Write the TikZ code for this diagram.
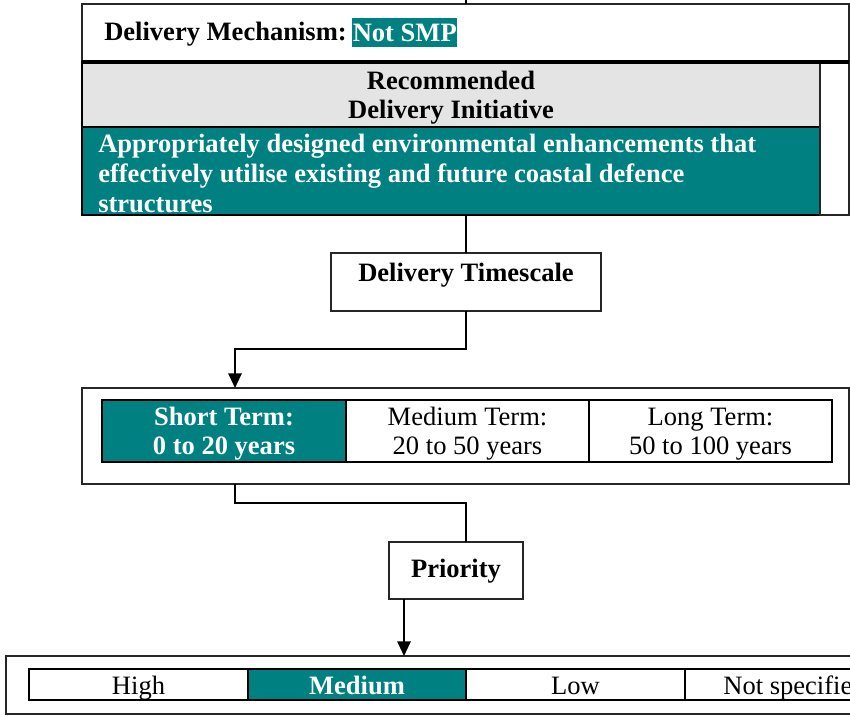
\documentclass[tikz,border=0pt]{standalone}
\usepackage{fontspec}
\setmainfont{Liberation Serif}
\usetikzlibrary{arrows.meta}
\definecolor{tealc}{HTML}{008080}
\definecolor{greyc}{HTML}{E4E4E4}
\newcommand\fsz{\fontsize{19.9pt}{24pt}\selectfont}
\begin{document}
\begin{tikzpicture}[x=0.75pt,y=-0.75pt,
  frame/.style={draw=black!85, line width=1.3pt, anchor=north west, inner sep=0pt, outer sep=0pt},
  cell/.style={draw=black, line width=1.5pt, anchor=north west, inner sep=0pt, outer sep=0pt},
  txt/.style={font=\fsz, inner sep=0pt, anchor=base},
  btxt/.style={font=\fsz\bfseries, inner sep=0pt, anchor=base},
  conn/.style={line width=1.5pt},
  arr/.style={conn, -{Triangle[width=10pt,length=11pt]}},
]
\useasboundingbox (0,0) rectangle (850,715);
\clip (0,0) rectangle (850,715);
\fill[white] (0,0) rectangle (850,715);

% ---- top box
\node[frame, minimum width=767*0.75pt, minimum height=211*0.75pt] (topouter) at (82,4) {};
\coordinate (topin) at (466,0);
\draw[conn] (topin) -- (topin |- topouter.north);
\node[btxt, anchor=base west] (mech) at (104,40) {Delivery Mechanism:};
\node[fill=tealc, text=white, font=\fsz\bfseries, minimum width=105*0.75pt, minimum height=29*0.75pt, anchor=north west, inner sep=0pt] (smp) at (352,18) {Not SMP};
\node[cell, fill=greyc, minimum width=738*0.75pt, minimum height=65*0.75pt] (rec) at (82,62) {};
\node[cell, fill=tealc, minimum width=738*0.75pt, minimum height=88*0.75pt] (init) at (82,127) {};
\node[frame, minimum width=29*0.75pt, minimum height=153*0.75pt] (rcol) at (820,62) {};
\draw[line width=2.6pt] (rec.north west) -- (rcol.north east);
\node[btxt] (rec1) at (451,89) {Recommended};
\node[btxt] (rec2) at (451,118) {Delivery Initiative};
\node[btxt, anchor=base west, text=white] (i1) at (98,152) {Appropriately designed environmental enhancements that};
\node[btxt, anchor=base west, text=white] (i2) at (98,182) {effectively utilise existing and future coastal defence};
\node[btxt, anchor=base west, text=white] (i3) at (98,212) {structures};

% ---- timescale
\node[frame, minimum width=270*0.75pt, minimum height=58*0.75pt] (ts) at (331,253) {};
\node[btxt] (tslabel) at (466,281) {Delivery Timescale};
\draw[conn] (topouter.south -| ts.north) -- (ts.north);

\node[frame, minimum width=767*0.75pt, minimum height=96*0.75pt] (tsouter) at (82,388) {};
\coordinate (bend1) at (235,349);
\draw[arr] (ts.south) |- (bend1) -- (bend1 |- tsouter.north);

\node[cell, fill=tealc, minimum width=244*0.75pt, minimum height=62*0.75pt] (short) at (102,400) {};
\node[cell, minimum width=243*0.75pt, minimum height=62*0.75pt] (medt) at (346,400) {};
\node[cell, minimum width=243*0.75pt, minimum height=62*0.75pt] (longt) at (589,400) {};
\node[btxt, text=white] (s1) at (224,425) {Short Term:};
\node[btxt, text=white] (s2) at (224,454) {0 to 20 years};
\node[txt] (m1) at (467.5,425) {Medium Term:};
\node[txt] (m2) at (467.5,454) {20 to 50 years};
\node[txt] (l1) at (710.5,425) {Long Term:};
\node[txt] (l2) at (710.5,454) {50 to 100 years};

% ---- priority
\node[frame, minimum width=134*0.75pt, minimum height=57*0.75pt] (pr) at (389,542) {};
\node[btxt] (prlabel) at (456,577) {Priority};
\coordinate (bend2) at (466,503);
\draw[conn] (bend1 |- tsouter.south) |- (bend2) -- (bend2 |- pr.north);

\node[frame, minimum width=870*0.75pt, minimum height=58*0.75pt] (prouter) at (6,656) {};
\coordinate (prx) at (404,600);
\draw[arr] (prx |- pr.south) -- (prx |- prouter.north);

\node[cell, minimum width=219*0.75pt, minimum height=31*0.75pt] (high) at (29,669) {};
\node[cell, fill=tealc, minimum width=218*0.75pt, minimum height=31*0.75pt] (med) at (248,669) {};
\node[cell, minimum width=219*0.75pt, minimum height=31*0.75pt] (low) at (466,669) {};
\node[cell, minimum width=219*0.75pt, minimum height=31*0.75pt] (ns) at (685,669) {};
\node[txt] (hight) at (138.5,694) {High};
\node[btxt, text=white] (medtx) at (357,694) {Medium};
\node[txt] (lowt) at (575.5,694) {Low};
\node[txt] (nst) at (794.5,694) {Not specified};
\end{tikzpicture}
\end{document}
